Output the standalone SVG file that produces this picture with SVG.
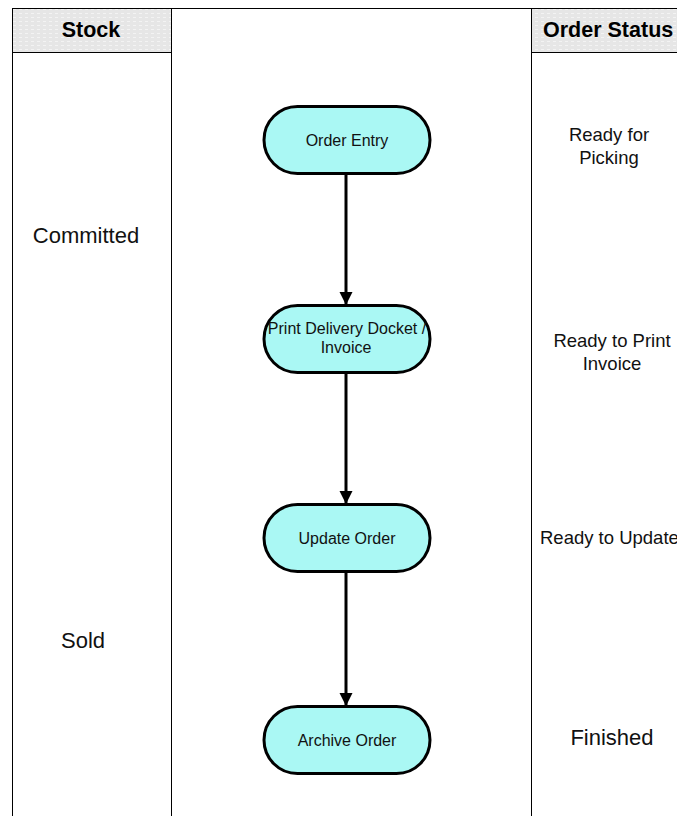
<svg xmlns="http://www.w3.org/2000/svg" width="677" height="816" viewBox="0 0 677 816">
  <defs>
    <pattern id="dots" width="6" height="4" patternUnits="userSpaceOnUse">
      <rect width="6" height="4" fill="#e6e6e6"/>
      <rect x="1" y="1" width="3" height="1" fill="#f3f3f3"/>
    </pattern>
    <marker id="arrow" viewBox="0 0 10 10" refX="10" refY="5" markerWidth="4.5" markerHeight="5.5" markerUnits="strokeWidth" orient="auto">
      <path d="M0,0 L10,5 L0,10 z" fill="#000"/>
    </marker>
  </defs>
  <style>
    .lane { fill: none; stroke: #000; stroke-width: 1; }
    .head { fill: url(#dots); stroke: #000; stroke-width: 1; }
    .htxt { font-family: "Liberation Sans", Arial, sans-serif; font-size: 21.5px; font-weight: bold; text-anchor: middle; }
    .node rect { fill: #aaf8f4; stroke: #000; stroke-width: 3; }
    .ntxt { font-family: "Liberation Sans", Arial, sans-serif; font-size: 16px; text-anchor: middle; fill: #111; }
    .stxt { font-family: "Liberation Sans", Arial, sans-serif; font-size: 18.5px; text-anchor: middle; fill: #111; }
    .btxt { font-family: "Liberation Sans", Arial, sans-serif; font-size: 22px; text-anchor: middle; fill: #111; }
    .conn line { stroke: #000; stroke-width: 3; marker-end: url(#arrow); }
  </style>

  <rect width="677" height="816" fill="#fff"/>

  <!-- swimlanes -->
  <g id="lanes">
    <rect class="head" x="12.5" y="8.5" width="159" height="44"/>
    <rect class="head" x="531.5" y="8.5" width="150" height="44"/>
    <line class="lane" x1="171.5" y1="8.5" x2="531.5" y2="8.5"/>
    <line class="lane" x1="12.5" y1="52" x2="12.5" y2="816"/>
    <line class="lane" x1="171.5" y1="8" x2="171.5" y2="816"/>
    <line class="lane" x1="531.5" y1="8" x2="531.5" y2="816"/>
    <text class="htxt" x="91" y="37">Stock</text>
    <text class="htxt" x="543" y="37" style="text-anchor:start">Order Status</text>
  </g>

  <!-- stock state labels -->
  <g id="stock-labels">
    <text class="btxt" x="86" y="243">Committed</text>
    <text class="btxt" x="83" y="648">Sold</text>
  </g>

  <!-- order status labels -->
  <g id="status-labels">
    <text class="stxt" x="609" y="141">Ready for</text>
    <text class="stxt" x="609" y="164">Picking</text>
    <text class="stxt" x="612" y="347">Ready to Print</text>
    <text class="stxt" x="612" y="370">Invoice</text>
    <text class="stxt" x="540" y="544" style="text-anchor:start">Ready to Update</text>
    <text class="btxt" x="612" y="745">Finished</text>
  </g>

  <!-- connectors -->
  <g id="connectors" class="conn">
    <line x1="346" y1="174" x2="346" y2="305"/>
    <line x1="346" y1="373" x2="346" y2="504"/>
    <line x1="346" y1="572" x2="346" y2="706"/>
  </g>

  <!-- process nodes -->
  <g id="order-entry" class="node">
    <rect x="264" y="106.5" width="166" height="67" rx="33.5"/>
    <text class="ntxt" x="347" y="146">Order Entry</text>
  </g>
  <g id="print-docket" class="node">
    <rect x="264" y="305.5" width="166" height="67" rx="33.5"/>
    <text class="ntxt" x="347" y="334">Print Delivery Docket /</text>
    <text class="ntxt" x="346" y="353">Invoice</text>
  </g>
  <g id="update-order" class="node">
    <rect x="264" y="504.5" width="166" height="67" rx="33.5"/>
    <text class="ntxt" x="347" y="544">Update Order</text>
  </g>
  <g id="archive-order" class="node">
    <rect x="264" y="706.5" width="166" height="67" rx="33.5"/>
    <text class="ntxt" x="347" y="746">Archive Order</text>
  </g>
</svg>
